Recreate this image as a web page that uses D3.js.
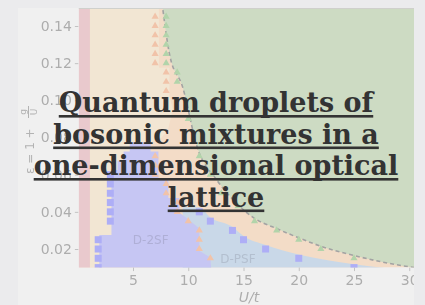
<!DOCTYPE html>
<html>
<head>
<meta charset="utf-8">
<script src="https://cdn.jsdelivr.net/npm/d3@7"></script>
<style>
  html, body { margin: 0; padding: 0; background: #ebebed; overflow: hidden; }
  svg { display: block; }
  .tick text { font-family: "DejaVu Sans", sans-serif; font-size: 14px; fill: #adadad; }
  .tick line { stroke: #c2c2c2; }
  .domain { display: none; }
</style>
</head>
<body>
<svg id="chart" width="425" height="305"></svg>
<script>
// values: x = U/t, y = eps
const xTicks = [5, 10, 15, 20, 25, 30];
const yTicks = [0.02, 0.04, 0.06, 0.08, 0.10, 0.12, 0.14];

// dashed droplet boundary (green above it)
const dashedBoundary = [
  [7.55, 0.156], [8.3, 0.125], [9.5, 0.107], [10.8, 0.075], [12.6, 0.057],
  [14.3, 0.045], [16, 0.0365], [18, 0.031], [20, 0.026], [22, 0.0215],
  [25, 0.0165], [28, 0.0125], [31, 0.0095]
];
// upper edge of the D-PSF region
const dpsfEdge = [
  [9.5, 0.0425], [11, 0.0425], [12, 0.037], [14, 0.032], [15, 0.027],
  [17, 0.0222], [20, 0.017], [25, 0.0118], [31, 0.008]
];
// outline of the D-2SF region
const d2sfOutline = [
  [1.95, 0], [1.95, 0.0275], [3.05, 0.0275], [3.05, 0.0625], [3.6, 0.0625],
  [3.6, 0.0675], [4.15, 0.0675], [4.15, 0.0725], [4.7, 0.0725], [4.7, 0.0775],
  [6.6, 0.0775], [6.6, 0.0725], [7.3, 0.0725], [7.3, 0.0575], [8.2, 0.0575],
  [8.2, 0.0475], [9.2, 0.0475], [9.2, 0.0395], [10, 0.036], [11, 0.031],
  [11, 0.019], [12, 0.0155], [12.2, 0]
];
// outline of the light (non droplet) region on the left
const mixedOutline = [
  [1.1, 0.16], [7.35, 0.16], [7.35, 0.1175], [8.3, 0.1175], [8.3, 0.1025],
  [8.6, 0.095], [8.2, 0.085], [7.6, 0.08], [6.6, 0.0775], [6.6, 0], [1.1, 0]
];
const redOutline = [[0, 0.16], [1.1, 0.16], [1.1, 0], [0, 0]];

// markers on the boundaries
const orangeTriangles = [
  [7, 0.145], [7, 0.14], [7, 0.135], [7, 0.13], [7, 0.125], [7, 0.12],
  [8, 0.115], [8, 0.11], [8, 0.105], [7, 0.07], [7, 0.065], [7, 0.06],
  [8, 0.055], [8, 0.05], [9, 0.045], [9, 0.04],
  [10, 0.035], [11, 0.03], [11, 0.025], [11, 0.02], [12, 0.015]
];
const greenTriangles = [
  [8, 0.145], [8, 0.14], [8, 0.135], [8, 0.13], [8, 0.125], [8, 0.12],
  [9, 0.115], [9, 0.11], [10, 0.09], [11, 0.07], [12, 0.06], [13, 0.05],
  [14.5, 0.043], [16, 0.035], [18, 0.03], [20, 0.025], [22, 0.02], [25, 0.015]
];
const blueSquares = [
  [11, 0.04], [12, 0.035], [14, 0.03], [15, 0.025], [17, 0.02], [20, 0.015], [25, 0.01],
  [2.95, 0.06], [2.95, 0.055], [2.95, 0.05], [2.95, 0.045], [2.95, 0.04], [2.95, 0.035],
  [1.85, 0.025], [1.85, 0.02], [1.85, 0.015], [1.85, 0.01]
];
const phaseLabels = [
  { name: "D-2SF", at: [6.6, 0.025], color: "#afafd6" },
  { name: "D-PSF", at: [14.5, 0.0148], color: "#b3bfcf" }
];
const titleLines = ["Quantum droplets of", "bosonic mixtures in a", "one-dimensional optical", "lattice"];

const svg = d3.select("#chart");

const x = d3.scaleLinear().domain([0, 30]).range([77.75, 409.25]);
const y = d3.scaleLinear().domain([0.01, 0.15]).range([267.6, 7.4]);

const plotLeft = x(0.1), plotRight = 414, plotTop = 8, plotBottom = y(0.01);

// panel behind the chart
svg.append("rect")
  .attr("x", 18).attr("y", 8).attr("width", 396).attr("height", 297)
  .attr("fill", "#f0f0f0");

const defs = svg.append("defs");
defs.append("filter").attr("id", "soft")
  .append("feGaussianBlur").attr("stdDeviation", 0.7);
defs.append("clipPath").attr("id", "plotclip")
  .append("rect")
  .attr("x", plotLeft).attr("y", plotTop)
  .attr("width", plotRight - plotLeft).attr("height", plotBottom - plotTop);
defs.append("clipPath").attr("id", "panelclip")
  .append("rect")
  .attr("x", 18).attr("y", 8).attr("width", 396).attr("height", 297);

const chart = svg.append("g").attr("clip-path", "url(#panelclip)")
  .append("g").attr("filter", "url(#soft)");
const plot = chart.append("g").attr("clip-path", "url(#plotclip)");

const outline = d3.line().x(d => x(d[0])).y(d => y(d[1]));

// peach background of the plot
plot.append("rect")
  .attr("x", plotLeft).attr("y", plotTop)
  .attr("width", plotRight - plotLeft).attr("height", plotBottom - plotTop)
  .attr("fill", "#f3dcc7");

plot.append("path").attr("d", outline(mixedOutline) + "Z").attr("fill", "#f2e6d3");
plot.append("path").attr("d", outline(redOutline) + "Z").attr("fill", "#e9c9cd");

plot.append("path")
  .attr("d", d3.area().x(d => x(d[0])).y0(y(0)).y1(d => y(d[1]))
    .curve(d3.curveMonotoneX)(dpsfEdge))
  .attr("fill", "#c9d8e8");

plot.append("path").attr("d", outline(d2sfOutline) + "Z").attr("fill", "#c6c6f3");

plot.append("path")
  .attr("d", d3.area().x(d => x(d[0])).y0(y(0.16)).y1(d => y(d[1]))
    .curve(d3.curveMonotoneX)(dashedBoundary))
  .attr("fill", "#cddbc3");

plot.append("path")
  .attr("d", d3.line().x(d => x(d[0])).y(d => y(d[1]))
    .curve(d3.curveMonotoneX)(dashedBoundary))
  .attr("fill", "none")
  .attr("stroke", "#a3a3a3")
  .attr("stroke-width", 1.6)
  .attr("stroke-dasharray", "4,3");

const tri = d3.symbol().type(d3.symbolTriangle).size(22);

plot.selectAll(".otri").data(orangeTriangles).join("path")
  .attr("class", "otri")
  .attr("d", tri)
  .attr("transform", d => `translate(${x(d[0])},${y(d[1])})`)
  .attr("fill", "#f1c3a9");

plot.selectAll(".gtri").data(greenTriangles).join("path")
  .attr("class", "gtri")
  .attr("d", tri)
  .attr("transform", d => `translate(${x(d[0])},${y(d[1])})`)
  .attr("fill", "#b2d4aa");

plot.selectAll(".bsq").data(blueSquares).join("rect")
  .attr("class", "bsq")
  .attr("x", d => x(d[0]) - 3.5).attr("y", d => y(d[1]) - 3.5)
  .attr("width", 7).attr("height", 7)
  .attr("fill", "#aeaef6");

plot.selectAll(".plabel").data(phaseLabels).join("text")
  .attr("class", "plabel")
  .attr("x", d => x(d.at[0])).attr("y", d => y(d.at[1]))
  .attr("text-anchor", "middle")
  .attr("dy", "0.35em")
  .attr("font-family", "DejaVu Sans, sans-serif")
  .attr("font-size", 12)
  .attr("fill", d => d.color)
  .text(d => d.name);

// top edge of the frame
chart.append("line")
  .attr("x1", plotLeft).attr("x2", plotRight)
  .attr("y1", plotTop + 0.5).attr("y2", plotTop + 0.5)
  .attr("stroke", "#cfd0cc");

chart.append("g")
  .attr("transform", `translate(${plotLeft - 0.5},0)`)
  .call(d3.axisLeft(y).tickValues(yTicks).tickFormat(d3.format(".2f")).tickSize(3.5).tickPadding(3));

chart.append("g")
  .attr("transform", `translate(0,${plotBottom})`)
  .call(d3.axisBottom(x).tickValues(xTicks).tickFormat(d3.format("d")).tickSize(3.5).tickPadding(3.5));

chart.append("text")
  .attr("x", 249).attr("y", 302)
  .attr("text-anchor", "middle")
  .attr("font-family", "DejaVu Sans, sans-serif")
  .attr("font-style", "italic")
  .attr("font-size", 14)
  .attr("fill", "#adadad")
  .text("U/t");

// y label: eps = 1 + g_AB / U
const ylab = chart.append("g")
  .attr("transform", "translate(34,174) rotate(-90)")
  .attr("font-family", "DejaVu Sans, sans-serif")
  .attr("fill", "#b3b3b3");
ylab.append("text").attr("font-size", 12).text("ε = 1 +");
ylab.append("text").attr("x", 62).attr("y", -8).attr("font-size", 9)
  .attr("text-anchor", "middle").text("g");
ylab.append("line").attr("x1", 56).attr("x2", 68).attr("y1", -5.5).attr("y2", -5.5)
  .attr("stroke", "#b3b3b3");
ylab.append("text").attr("x", 62).attr("y", 3).attr("font-size", 9)
  .attr("text-anchor", "middle").text("U");

// title over the picture
const title = svg.append("g")
  .attr("font-family", "DejaVu Serif, serif")
  .attr("font-weight", "bold")
  .attr("font-size", 27)
  .attr("fill", "#333");

titleLines.forEach((line, i) => {
  const base = 112 + i * 31.5;
  const t = title.append("text")
    .attr("x", 216).attr("y", base)
    .attr("text-anchor", "middle")
    .text(line);
  const w = t.node().getComputedTextLength();
  title.append("rect")
    .attr("x", 216 - w / 2).attr("y", base + 3)
    .attr("width", w).attr("height", 2.6);
});
</script>
</body>
</html>
